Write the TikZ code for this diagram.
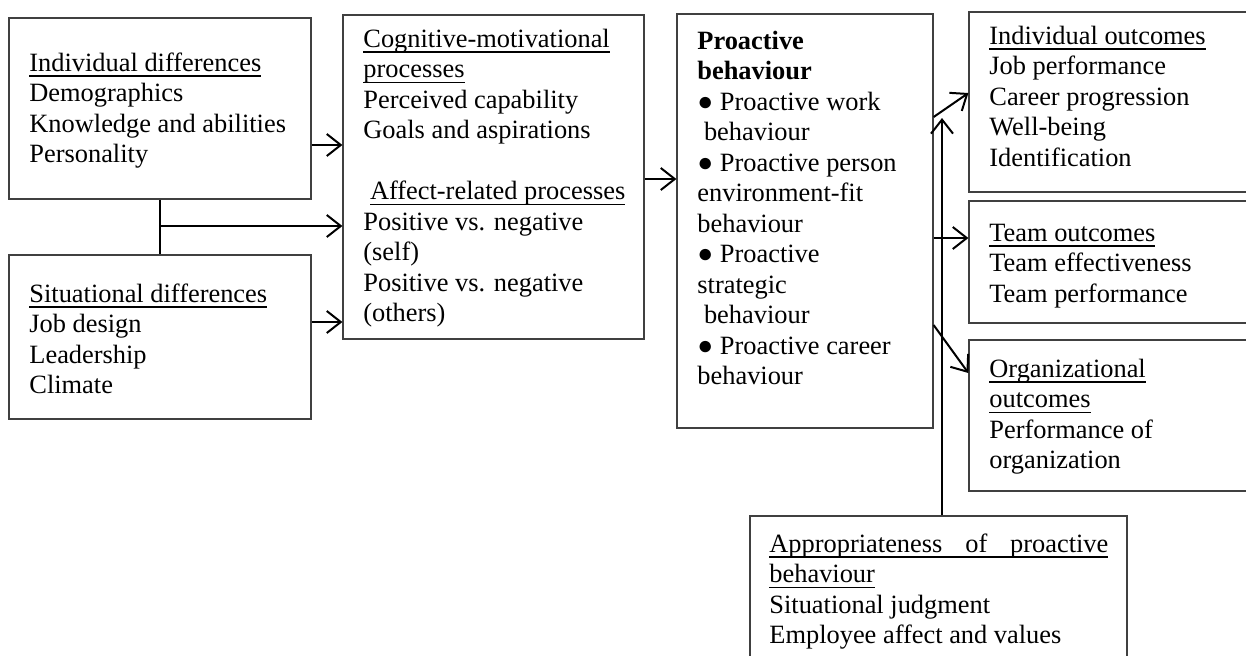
\documentclass[tikz,border=0pt]{standalone}
\usepackage{fontspec}
\setmainfont{Liberation Serif}
\usetikzlibrary{arrows.meta,fit}

% underline at a fixed depth, as in the source
\newlength\ulwd
\newcommand\ulin[1]{\settowidth\ulwd{#1}\rlap{\rule[-2.6pt]{\ulwd}{0.7pt}}#1}

\tikzset{
  box/.style={draw=black!75, line width=0.6pt, inner sep=0pt},
  txt/.style={anchor=north west, inner sep=0pt, align=left,
    font=\fontsize{13.2}{15.25}\selectfont},
  link/.style={line width=1pt},
  arr/.style={line width=1pt, -{Straight Barb[length=7pt,width=11pt,line width=1pt]}}
}

\begin{document}
\begin{tikzpicture}[x=0.5pt,y=-0.5pt]
    \clip (0,0) rectangle (1246,655);

    % Antecedents
    \node[box, fit={(9,18) (311,199)}] (ind) {};
    \node[txt] (indtxt) at (29,49.65) {\strut\ulin{Individual differences}\\Demographics\\Knowledge and abilities\\Personality};
    \node[box, fit={(9,255) (311,419)}] (sit) {};
    \node[txt] (sittxt) at (29,280.65) {\strut\ulin{Situational differences}\\Job design\\Leadership\\Climate};

    % Processes
    \node[box, fit={(343,15) (644,339)}] (proc) {};
    \node[txt] (proctxt) at (363,25.65) {\strut\ulin{Cognitive-motivational}\\\ulin{processes}\\Perceived capability\\Goals and aspirations\\\strut\\\ \ulin{Affect-related processes}\\Positive vs. negative\\(self)\\Positive vs. negative\\(others)};

    % Proactive behaviour
    \node[box, fit={(677,14) (933,428)}] (pro) {};
    \node[txt] (protxt) at (697,27.65) {\strut\textbf{Proactive}\\\textbf{behaviour}\\● Proactive work\\\ behaviour\\● Proactive person\\environment-fit\\behaviour\\● Proactive\\strategic\\\ behaviour\\● Proactive career\\behaviour};

    % Outcomes
    \node[box, fit={(969,12) (1252,192)}] (iout) {};
    \node[txt] (iouttxt) at (989,22.65) {\strut\ulin{Individual outcomes}\\Job performance\\Career progression\\Well-being\\Identification};
    \node[box, fit={(969,201) (1252,323)}] (tout) {};
    \node[txt] (touttxt) at (989,219.65) {\strut\ulin{Team outcomes}\\Team effectiveness\\Team performance};
    \node[box, fit={(969,340) (1252,491)}] (oout) {};
    \node[txt] (oouttxt) at (989,355.65) {\strut\ulin{Organizational}\\\ulin{outcomes}\\Performance of\\organization};

    % Moderator
    \node[box, fit={(750,516) (1127,672)}] (app) {};
    \node[txt] (apptxt) at (769,530.65) {\strut\rlap{\rule[-2.6pt]{169.5pt}{0.7pt}}\makebox[169.5pt][s]{Appropriateness of proactive}\\\ulin{behaviour}\\Situational judgment\\Employee affect and values};

    % Connectors
    \coordinate (jn) at (160,226);
    \coordinate (apptip) at (942,118);
    \draw[link] (ind.south) -- (sit.north);
    \draw[arr] (jn) -- (proc.west |- jn);
    \draw[arr] (ind.east |- 0,145) -- (proc.west |- 0,145);
    \draw[arr] (sit.east |- 0,322) -- (proc.west |- 0,322);
    \draw[arr] (proc.east |- 0,179) -- (pro.west |- 0,179);
    \draw[arr] (pro.east |- 0,117) -- (iout.west |- 0,93);
    \draw[arr] (pro.east |- 0,238) -- (tout.west |- 0,238);
    \draw[arr] (pro.east |- 0,325) -- (oout.west |- 0,373);
    \draw[arr] (app.north -| apptip) -- (apptip);
\end{tikzpicture}
\end{document}
